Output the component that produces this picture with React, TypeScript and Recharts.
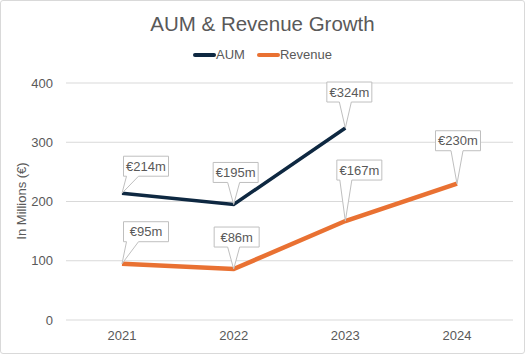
import { LineChart, Line, XAxis, YAxis, CartesianGrid, LabelList } from 'recharts';

const YEARS = ['2021', '2022', '2023', '2024'];
const AUM = [214, 195, 324, null];
const REVENUE = [95, 86, 167, 230];
const Y_TICKS = [0, 100, 200, 300, 400];

// callout box placement relative to each point: [dx of box center, gap from point to box bottom]
const AUM_CALLOUTS = [[24, 17], [2, 22], [4, 26], [0, 22]];
const REVENUE_CALLOUTS = [[24, 22], [3, 22], [14, 41], [1, 33]];

const NAVY = '#0e2841';
const ORANGE = '#e97132';
const TEXT = '#595959';
const FONT = '"Liberation Sans", Arial, sans-serif';

const chartData = YEARS.map((year, i) => ({
  year,
  aum: AUM[i],
  revenue: REVENUE[i],
}));

function makeCallout(offsets: number[][]) {
  return (props: any) => {
    const { x, y, value, index } = props;
    if (value == null) return null;
    const [dx, gap] = offsets[index] ?? [0, 22];
    const w = 45;
    const h = 20;
    const cx = x + dx;
    const left = cx - w / 2;
    const right = cx + w / 2;
    const bottom = y - gap;
    const top = bottom - h;
    const base = Math.min(Math.max(x, left + 9), right - 9);
    const path = `M${left},${top} H${right} V${bottom} H${base + 6} L${x},${y} L${base - 6},${bottom} H${left} Z`;
    return (
      <g>
        <path d={path} fill="#fff" stroke="#bfbfbf" strokeWidth={1} />
        <text x={cx} y={top + 14.5} textAnchor="middle" fontSize={13} fill={TEXT} fontFamily={FONT}>
          €{value}m
        </text>
      </g>
    );
  };
}

export default function App() {
  return (
    <div
      style={{
        position: 'absolute',
        left: 0,
        top: 0,
        width: 525,
        height: 354,
        fontFamily: FONT,
        background: '#fff',
      }}
    >
      <div
        style={{
          position: 'absolute',
          inset: 0,
          border: '1px solid #d9d9d9',
          borderRadius: 3,
          boxSizing: 'border-box',
        }}
      />
      <div
        style={{
          position: 'absolute',
          top: 12,
          width: '100%',
          textAlign: 'center',
          fontSize: 20.5,
          color: TEXT,
        }}
      >
        AUM &amp; Revenue Growth
      </div>
      <div
        style={{
          position: 'absolute',
          top: 47,
          width: '100%',
          display: 'flex',
          justifyContent: 'center',
          fontSize: 13,
          color: TEXT,
          gap: 12,
        }}
      >
        {[
          { name: 'AUM', color: NAVY },
          { name: 'Revenue', color: ORANGE },
        ].map((item) => (
          <div key={item.name} style={{ display: 'flex', alignItems: 'center' }}>
            <span
              style={{
                display: 'inline-block',
                width: 23,
                height: 4,
                borderRadius: 2,
                background: item.color,
              }}
            />
            <span>{item.name}</span>
          </div>
        ))}
      </div>
      <LineChart
        width={525}
        height={354}
        data={chartData}
        margin={{ top: 83, right: 12, bottom: 4, left: 0 }}
        style={{ position: 'absolute', left: 0, top: 0 }}
      >
        <CartesianGrid vertical={false} stroke="#d9d9d9" />
        <XAxis
          dataKey="year"
          axisLine={false}
          tickLine={false}
          tickSize={0}
          tickMargin={11}
          height={30}
          padding={{ left: 56, right: 56 }}
          tick={{ fill: TEXT, fontSize: 13, fontFamily: FONT }}
        />
        <YAxis
          width={66}
          domain={[0, 400]}
          ticks={Y_TICKS}
          axisLine={false}
          tickLine={false}
          tickSize={0}
          tickMargin={13}
          tick={{ fill: TEXT, fontSize: 13, fontFamily: FONT }}
          label={{
            content: () => (
              <text
                x={26}
                y={201}
                transform="rotate(-90 26 201)"
                textAnchor="middle"
                fontSize={13}
                fill={TEXT}
                fontFamily={FONT}
              >
                In Millions (€)
              </text>
            ),
          }}
        />
        <Line
          type="linear"
          dataKey="aum"
          stroke={NAVY}
          strokeWidth={3.5}
          dot={false}
          activeDot={false}
          connectNulls={false}
          isAnimationActive={false}
        >
          <LabelList dataKey="aum" content={makeCallout(AUM_CALLOUTS)} />
        </Line>
        <Line
          type="linear"
          dataKey="revenue"
          stroke={ORANGE}
          strokeWidth={4.5}
          dot={false}
          activeDot={false}
          isAnimationActive={false}
        >
          <LabelList dataKey="revenue" content={makeCallout(REVENUE_CALLOUTS)} />
        </Line>
      </LineChart>
    </div>
  );
}
